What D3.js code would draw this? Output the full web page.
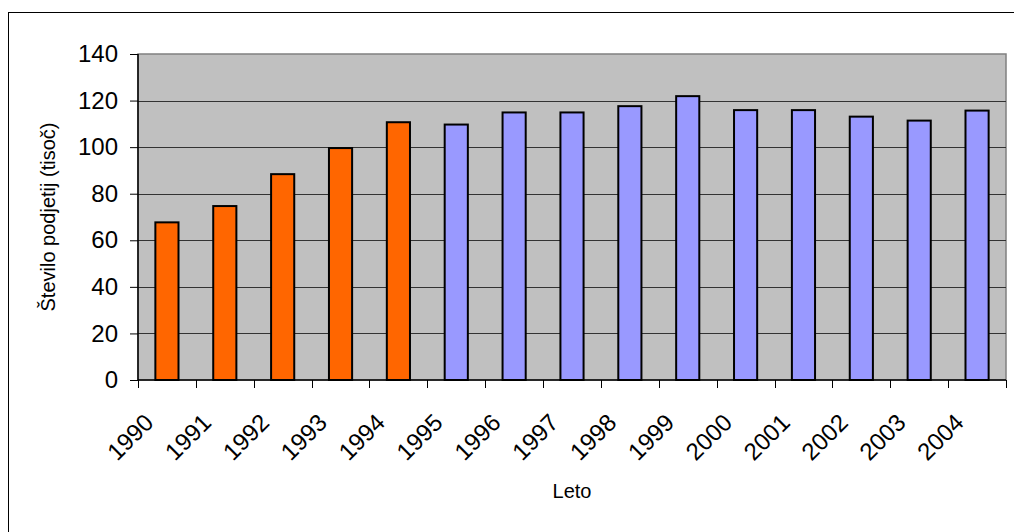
<!DOCTYPE html>
<html>
<head>
<meta charset="utf-8">
<script src="https://cdn.jsdelivr.net/npm/d3@7/dist/d3.min.js"></script>
<style>
  html, body { margin: 0; padding: 0; background: #fff; }
  svg { display: block; font-family: "Liberation Sans", Arial, sans-serif; }
</style>
</head>
<body>
<svg id="chart" width="1014" height="532"></svg>
<script>
// Number of enterprises (thousands) per year
const years = ["1990","1991","1992","1993","1994","1995","1996","1997","1998","1999","2000","2001","2002","2003","2004"];
const values = [67.7, 74.7, 88.4, 99.6, 110.7, 109.7, 114.9, 114.9, 117.6, 121.9, 115.9, 115.9, 113.1, 111.4, 115.7];
const highlightYears = ["1990","1991","1992","1993","1994"];
const yTicks = [0, 20, 40, 60, 80, 100, 120, 140];

const svg = d3.select("#chart");
const W = 1014, H = 532;
const plot = { left: 138, top: 54, right: 1006, bottom: 380 };

// outer chart frame
svg.append("rect")
  .attr("x", 8.5).attr("y", 12.5)
  .attr("width", W).attr("height", H)
  .attr("fill", "#fff").attr("stroke", "#000").attr("stroke-width", 1);

const x = d3.scaleBand()
  .domain(years)
  .range([plot.left, plot.right])
  .paddingInner(0.6)
  .paddingOuter(0.3);

const y = d3.scaleLinear()
  .domain([0, 140])
  .range([plot.bottom, plot.top]);

// plot background
svg.append("rect")
  .attr("x", plot.left).attr("y", plot.top)
  .attr("width", plot.right - plot.left).attr("height", plot.bottom - plot.top)
  .attr("fill", "#c0c0c0")
  .attr("stroke", "#808080").attr("stroke-width", 1.5);

// horizontal gridlines
svg.append("g")
  .selectAll("line")
  .data(yTicks.filter(d => d > 0 && d < 140))
  .join("line")
  .attr("x1", plot.left).attr("x2", plot.right)
  .attr("y1", d => Math.round(y(d)) + 0.5).attr("y2", d => Math.round(y(d)) + 0.5)
  .attr("stroke", "#333").attr("stroke-width", 1.2);

// bars
svg.append("g")
  .selectAll("rect")
  .data(years.map((yr, i) => ({ yr, v: values[i] })))
  .join("rect")
  .attr("x", d => x(d.yr))
  .attr("y", d => y(d.v))
  .attr("width", x.bandwidth())
  .attr("height", d => plot.bottom - y(d.v))
  .attr("fill", d => highlightYears.includes(d.yr) ? "#ff6600" : "#9999ff")
  .attr("stroke", "#000").attr("stroke-width", 2);

// y axis
const yAxis = d3.axisLeft(y).tickValues(yTicks).tickSize(8).tickPadding(12).tickFormat(d3.format("d"));
const gy = svg.append("g").attr("transform", `translate(${plot.left},0)`).call(yAxis);
gy.select(".domain").attr("stroke", "#000").attr("stroke-width", 1.5).attr("d", `M0,${plot.top}V${plot.bottom}`);
gy.selectAll(".tick line").attr("stroke", "#000");
gy.selectAll("text").attr("font-size", 24).attr("fill", "#000")
  .attr("font-family", "'Liberation Sans', Arial, sans-serif");

// x axis baseline and ticks at category boundaries
const bounds = d3.range(years.length + 1).map(i => plot.left + i * (plot.right - plot.left) / years.length);
svg.append("line")
  .attr("x1", plot.left).attr("x2", plot.right)
  .attr("y1", plot.bottom).attr("y2", plot.bottom)
  .attr("stroke", "#000").attr("stroke-width", 1.5);
svg.append("g").selectAll("line")
  .data(bounds)
  .join("line")
  .attr("x1", d => Math.round(d) + 0.5).attr("x2", d => Math.round(d) + 0.5)
  .attr("y1", plot.bottom).attr("y2", plot.bottom + 8)
  .attr("stroke", "#000").attr("stroke-width", 1);

// rotated year labels
svg.append("g").selectAll("text")
  .data(years)
  .join("text")
  .attr("transform", d => `translate(${x(d) + x.bandwidth() / 2 - 12},${plot.bottom + 44}) rotate(-45)`)
  .attr("text-anchor", "end")
  .attr("font-size", 24)
  .attr("fill", "#000")
  .text(d => d);

// axis titles
svg.append("text")
  .attr("x", (plot.left + plot.right) / 2)
  .attr("y", 498)
  .attr("text-anchor", "middle")
  .attr("font-size", 20)
  .text("Leto");

svg.append("text")
  .attr("transform", `translate(55,${(plot.top + plot.bottom) / 2}) rotate(-90)`)
  .attr("text-anchor", "middle")
  .attr("font-size", 20)
  .text("Število podjetij (tisoč)");
</script>
</body>
</html>
